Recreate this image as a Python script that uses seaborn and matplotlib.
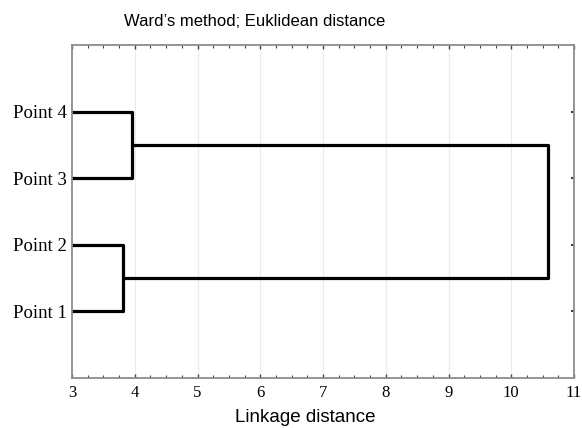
import matplotlib
matplotlib.use("Agg")
import matplotlib.pyplot as plt
import seaborn as sns
import pandas as pd
from matplotlib.ticker import MultipleLocator

# Data
leaf_labels = ["Point 1", "Point 2", "Point 3", "Point 4"]
leaf_pos = [1, 2, 3, 4]
merge_dist = [3.81, 3.95, 10.59]
merge_left = ["Point 2", "Point 4", "C34"]
merge_right = ["Point 1", "Point 3", "C12"]
merge_name = ["C12", "C34", "ROOT"]
base_dist = 3.0
title = "Ward\u2019s method; Euklidean distance"
xlabel = "Linkage distance"

sns.set_style("white")

pos = {l: p for l, p in zip(leaf_labels, leaf_pos)}
height = {l: base_dist for l in leaf_labels}
rows = []
seg = 0
for left, right, d, name in zip(merge_left, merge_right, merge_dist, merge_name):
    ya, yb = pos[left], pos[right]
    xa, xb = height[left], height[right]
    for x, y in [(xa, ya), (d, ya), (d, yb), (xb, yb)]:
        rows.append({"seg": seg, "x": x, "y": y})
    seg += 1
    pos[name] = (ya + yb) / 2
    height[name] = d
df = pd.DataFrame(rows)

fig = plt.figure(figsize=(5.82, 4.28), dpi=100)
ax = fig.add_axes([72 / 582, 1 - 378 / 428, (574 - 72) / 582, (378 - 45) / 428])

for x in range(4, 11):
    ax.axvline(x, color="#ebebeb", lw=0.8, zorder=0)

sns.lineplot(data=df, x="x", y="y", units="seg", estimator=None, sort=False,
             color="black", lw=2.3, ax=ax, legend=False)

ax.set_xlim(3, 11)
ax.set_ylim(0, 5)
ax.xaxis.set_major_locator(MultipleLocator(1))
ax.xaxis.set_minor_locator(MultipleLocator(0.25))
ax.set_yticks(leaf_pos)
ax.set_yticklabels(leaf_labels)
ax.tick_params(axis="both", which="both", direction="in", top=True, right=True,
               bottom=True, left=True, color="#444444", labelcolor="black")
ax.tick_params(axis="both", which="major", length=3, width=1)
ax.tick_params(axis="x", which="minor", length=2, width=0.8)
ax.tick_params(axis="y", which="major", length=2.5, width=1.5, pad=4)
ax.tick_params(axis="x", which="major", pad=5)
for lab in ax.get_xticklabels() + ax.get_yticklabels():
    lab.set_fontfamily("Liberation Serif")
for lab in ax.get_yticklabels():
    lab.set_fontsize(13.5)
for lab in ax.get_xticklabels():
    lab.set_fontsize(12)
for s in ax.spines.values():
    s.set_color("#8c8c8c")
    s.set_linewidth(1.3)
ax.set_xlabel("")
ax.set_ylabel("")

fig.text(255 / 582, 1 - 21 / 428, title, ha="center", va="center",
         fontfamily="Liberation Sans", fontsize=12, color="black")
fig.text(305 / 582, 1 - 417 / 428, xlabel, ha="center", va="center",
         fontfamily="Liberation Sans", fontsize=13.5, color="black")

fig.savefig("out.png", dpi=100)
